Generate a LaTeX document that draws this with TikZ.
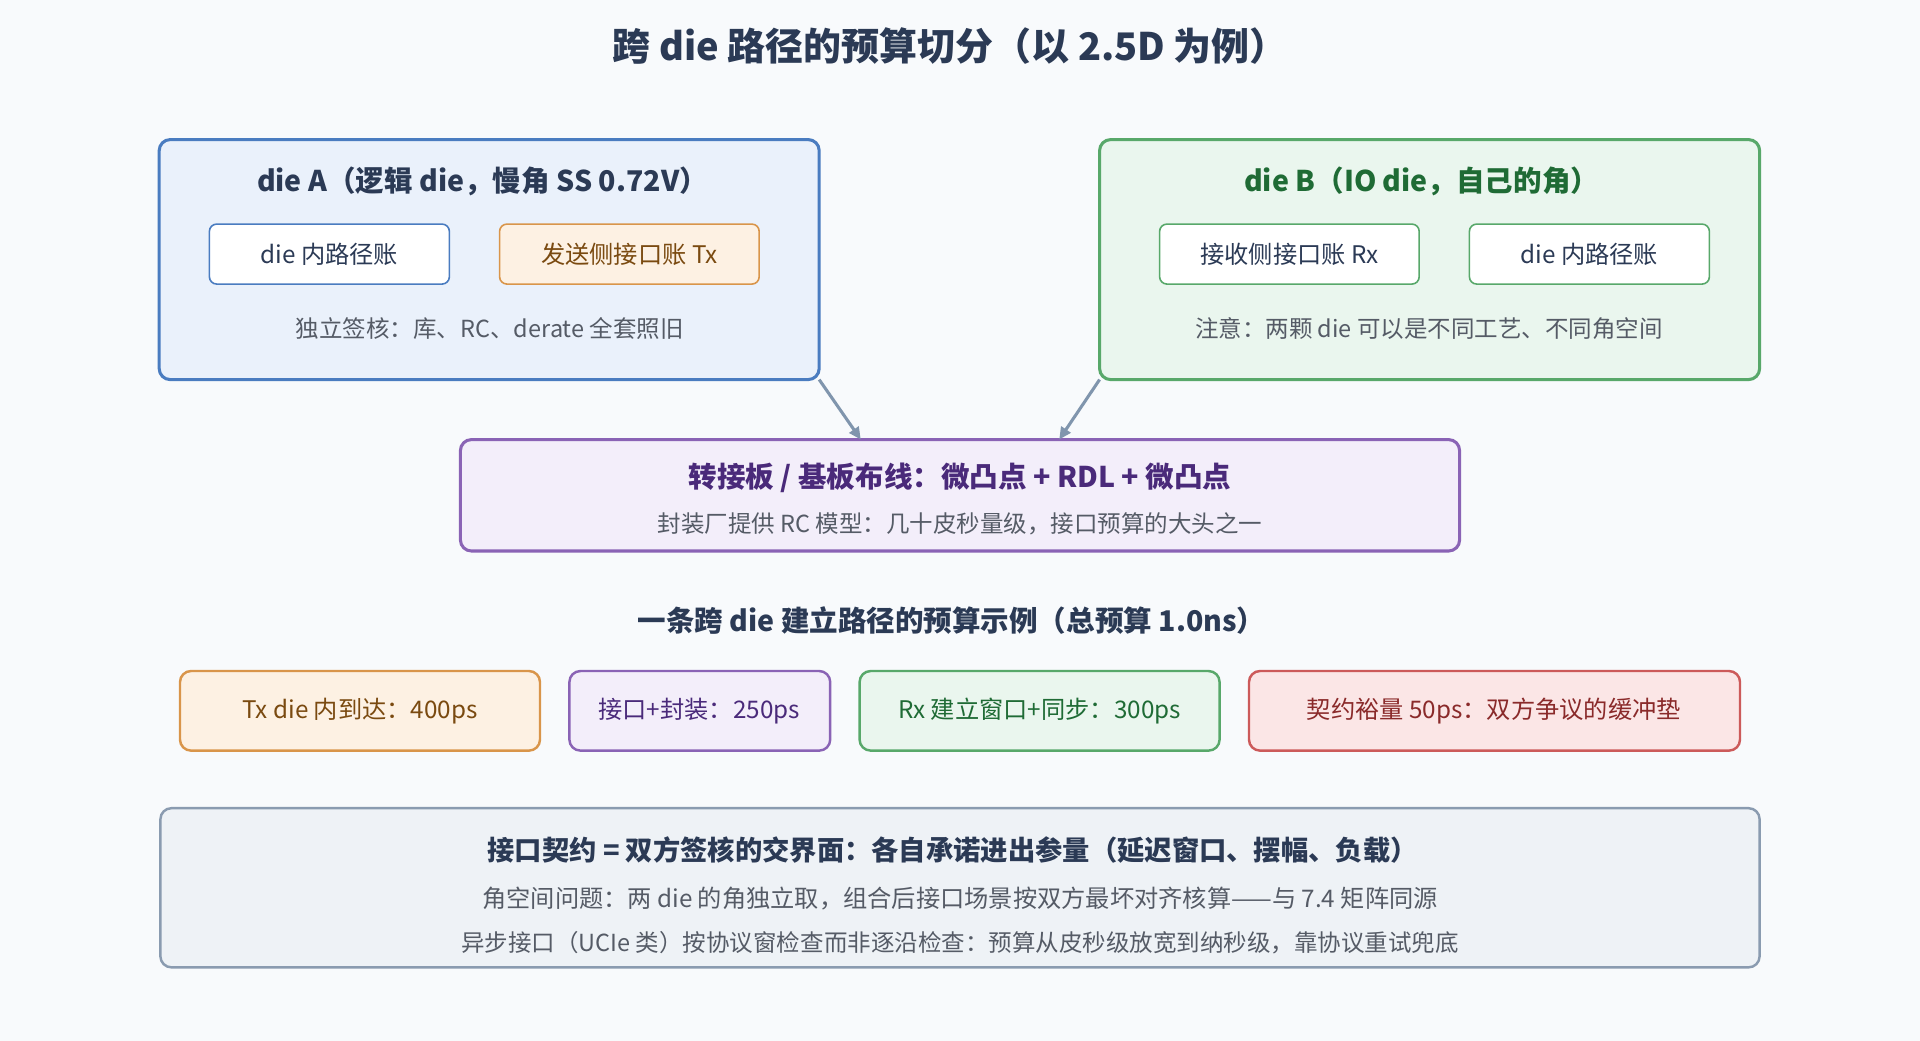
\documentclass[tikz,border=0pt]{standalone}
\usepackage{fontspec}
\setmainfont{Noto Sans CJK SC}
\usetikzlibrary{arrows.meta}
\definecolor{bg}{HTML}{F8FAFC}
\definecolor{ink}{HTML}{2B3A55}
\definecolor{gr}{HTML}{555B66}
\definecolor{aF}{HTML}{EAF1FB}\definecolor{aD}{HTML}{4A7CC0}
\definecolor{bF}{HTML}{EAF6EE}\definecolor{bD}{HTML}{58A86A}\definecolor{bT}{HTML}{1F6B35}
\definecolor{pF}{HTML}{F3EEFA}\definecolor{pD}{HTML}{8A63B5}\definecolor{pT}{HTML}{4A2A7A}
\definecolor{oF}{HTML}{FDF1E3}\definecolor{oD}{HTML}{D9954A}\definecolor{oT}{HTML}{7A4A10}
\definecolor{rF}{HTML}{FBE6E6}\definecolor{rD}{HTML}{CC5A5A}\definecolor{rT}{HTML}{8A2A2A}
\definecolor{sF}{HTML}{EEF2F6}\definecolor{sD}{HTML}{8A9BB0}
\definecolor{arr}{HTML}{8095AD}
\begin{document}
\begin{tikzpicture}[x=1pt,y=-1pt,
 box/.style={rounded corners=9pt,line width=2.5pt},
 ibox/.style={rounded corners=6pt,line width=1.3pt,fill=white},
 t/.style={font=\fontsize{23.3}{27}\selectfont\bfseries,text=ink},
 b/.style={font=\fontsize{19.8}{23}\selectfont,text=#1},b/.default=ink,
 s/.style={font=\fontsize{19.2}{22}\selectfont,text=gr}]
\fill[bg] (0,0) rectangle (1568,850);
\useasboundingbox (0,0) rectangle (1568,850);
\node[t,font=\fontsize{31}{35}\selectfont\bfseries] (title) at (776,38) {跨 die 路径的预算切分（以 2.5D 为例）};
% die A
\draw[box,draw=aD,fill=aF] (130,114) rectangle (669,310);
\coordinate (aBR) at (669,310);
\node[t] (at) at (394,148) {die A（逻辑 die，慢角 SS 0.72V）};
\draw[ibox,draw=aD] (171,183) rectangle (367,232);
\node[b] (a1) at (269,208) {die 内路径账};
\draw[ibox,draw=oD,fill=oF] (408,183) rectangle (620,232);
\node[b=oT] (a2) at (514,208) {发送侧接口账 Tx};
\node[s] (an) at (400,268) {独立签核：库、RC、derate 全套照旧};
% die B
\draw[box,draw=bD,fill=bF] (898,114) rectangle (1437,310);
\coordinate (bBL) at (898,310);
\node[t,text=bT] (bt) at (1161,148) {die B（IO die，自己的角）};
\draw[ibox,draw=bD] (947,183) rectangle (1159,232);
\node[b] (b1) at (1053,208) {接收侧接口账 Rx};
\draw[ibox,draw=bD] (1200,183) rectangle (1396,232);
\node[b] (b2) at (1298,208) {die 内路径账};
\node[s] (bn) at (1167,268) {注意：两颗 die 可以是不同工艺、不同角空间};
% interposer
\draw[box,draw=pD,fill=pF] (376,359) rectangle (1192,450);
\coordinate (pL) at (703,359); \coordinate (pR) at (865,359);
\node[t,text=pT] (pt) at (784,390) {转接板 / 基板布线：微凸点 + RDL + 微凸点};
\node[s] (ps) at (784,428) {封装厂提供 RC 模型：几十皮秒量级，接口预算的大头之一};
\draw[arr,line width=2.5pt,-{Triangle[length=10pt,width=9pt]}] (aBR) -- (pL);
\draw[arr,line width=2.5pt,-{Triangle[length=10pt,width=9pt]}] (bBL) -- (pR);
% budget
\node[t] (bh) at (777,507) {一条跨 die 建立路径的预算示例（总预算 1.0ns）};
\draw[box,line width=2pt,draw=oD,fill=oF] (147,548) rectangle (441,613);
\node[b=oT] (k1) at (294,581) {Tx die 内到达：400ps};
\draw[box,line width=2pt,draw=pD,fill=pF] (465,548) rectangle (678,613);
\node[b=pT] (k2) at (571,581) {接口+封装：250ps};
\draw[box,line width=2pt,draw=bD,fill=bF] (702,548) rectangle (996,613);
\node[b=bT] (k3) at (849,581) {Rx 建立窗口+同步：300ps};
\draw[box,line width=2pt,draw=rD,fill=rF] (1020,548) rectangle (1421,613);
\node[b=rT] (k4) at (1220,581) {契约裕量 50ps：双方争议的缓冲垫};
% bottom
\draw[box,line width=2pt,draw=sD,fill=sF] (131,660) rectangle (1437,790);
\node[t,font=\fontsize{22.3}{26}\selectfont\bfseries] (c1) at (778,694) {接口契约 = 双方签核的交界面：各自承诺进出参量（延迟窗口、摆幅、负载）};
\node[b=gr] (c2) at (784,734) {角空间问题：两 die 的角独立取，组合后接口场景按双方最坏对齐核算——与 7.4 矩阵同源};
\node[s] (c3) at (784,770) {异步接口（UCIe 类）按协议窗检查而非逐沿检查：预算从皮秒级放宽到纳秒级，靠协议重试兜底};
\end{tikzpicture}
\end{document}
